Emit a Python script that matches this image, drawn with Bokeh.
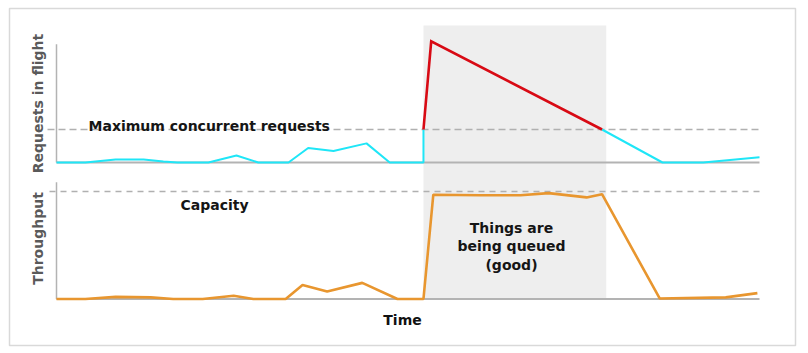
import math
from bokeh.plotting import figure
from bokeh.models import Range1d, Label
from bokeh.embed import file_html
from bokeh.resources import INLINE

# ---------------- data ----------------
# requests in flight (top panel), time in arbitrary units 0..100
req_time = [0, 4.1, 8.4, 12.4, 15.2, 17.2, 21.6, 25.6, 28.7, 33.0, 35.8, 39.4, 44.1, 47.4, 52.2, 52.2]
req_vals = [0, 0, 0.9, 0.9, 0.3, 0, 0, 2.1, 0, 0, 4.4, 3.5, 5.8, 0, 0, 10]
# over the limit (queued)
over_time = [52.2, 53.3, 77.6]
over_vals = [10, 36.7, 10]
# back under the limit
after_time = [77.6, 86.2, 92.0, 100]
after_vals = [10, 0, 0, 1.6]

# throughput (bottom panel)
thr_time = [0, 4.1, 8.4, 13.4, 16.6, 20.8, 25.2, 28.0, 32.6, 35.0, 38.5, 43.5, 48.5, 52.2,
            53.6, 60.3, 66.0, 70.0, 75.4, 77.6, 85.8, 95.2, 99.7]
thr_vals = [0, 0, 2, 1.5, 0, 0, 3, 0, 0, 13, 7, 15, 0, 0,
            97, 96.5, 96.5, 98.5, 94.5, 97.5, 0.5, 1.5, 5.5]

MAX_CONCURRENT = 10
CAPACITY = 100
T_END = 100
QUEUE_START, QUEUE_END = 52.2, 78.2
REQ_AXIS_TOP = 35.8
THR_AXIS_TOP = 108.7

# ---------------- layout (pixels) ----------------
W, H = 808, 353
FL, FR, FT, FB = 9, 795, 8, 345          # outer box
X0_PX, PX_PER_T = 56, 7.03               # time 0 at x=56
REQ0_PX, PX_PER_REQ = 162, 3.3           # requests 0 at y=162
THR0_PX, PX_PER_THR = 298.5, 1.075       # throughput 0 at y=298.5


def tx(px):
    return (px - X0_PX) / PX_PER_T


def ry(py):
    return (REQ0_PX - py) / PX_PER_REQ


def thy(py):
    return (THR0_PX - py) / PX_PER_THR


p = figure(width=W, height=H,
           x_range=Range1d(tx(FL), tx(FR)),
           y_range=Range1d(ry(FB), ry(FT)),
           x_axis_type=None, y_axis_type=None,
           toolbar_location=None, output_backend="svg",
           min_border_left=FL, min_border_right=W - FR,
           min_border_top=FT, min_border_bottom=H - FB,
           outline_line_color="#d9d9d9", outline_line_width=1.5,
           background_fill_color="white", border_fill_color="white")
p.extra_y_ranges = {"thr": Range1d(thy(FB), thy(FT))}

FONT = "DejaVu Sans"
AXIS_COL = "#b3b3b3"
DASH_COL = "#b0b0b0"

# queued highlight
p.quad(left=QUEUE_START, right=QUEUE_END, bottom=0, top=thy(25),
       y_range_name="thr", fill_color="#eeeeee", line_color=None)

# top panel axes
p.segment(x0=[0], y0=[0], x1=[0], y1=[REQ_AXIS_TOP], line_color=AXIS_COL, line_width=1.5)
p.segment(x0=[0], y0=[0], x1=[T_END], y1=[0], line_color=AXIS_COL, line_width=2)
p.segment(x0=[tx(47)], y0=[MAX_CONCURRENT], x1=[T_END], y1=[MAX_CONCURRENT],
          line_color=DASH_COL, line_width=1.5, line_dash="7 4")

# bottom panel axes
p.segment(x0=[0], y0=[0], x1=[0], y1=[THR_AXIS_TOP], line_color=AXIS_COL, line_width=1.5,
          y_range_name="thr")
p.segment(x0=[0], y0=[0], x1=[T_END], y1=[0], line_color=AXIS_COL, line_width=2,
          y_range_name="thr")
p.segment(x0=[tx(49)], y0=[CAPACITY], x1=[T_END], y1=[CAPACITY],
          line_color=DASH_COL, line_width=1.5, line_dash="6 5", y_range_name="thr")

# series
p.line(req_time, req_vals, line_color="#1fe6f7", line_width=2)
p.line(after_time, after_vals, line_color="#1fe6f7", line_width=2)
p.line(over_time, over_vals, line_color="#d80a14", line_width=2.6, line_join="miter")
p.line(thr_time, thr_vals, line_color="#e8962f", line_width=2.6, y_range_name="thr")

# texts
p.add_layout(Label(x=tx(37), y=ry(103), text="Requests in flight", angle=math.pi / 2,
                   text_align="center", text_baseline="middle", text_font=FONT,
                   text_font_size="14px", text_font_style="bold", text_color="#5a5a5a"))
p.add_layout(Label(x=tx(37), y=thy(238), y_range_name="thr", text="Throughput",
                   angle=math.pi / 2, text_align="center", text_baseline="middle",
                   text_font=FONT, text_font_size="14px", text_font_style="bold",
                   text_color="#5a5a5a"))
p.add_layout(Label(x=tx(88), y=ry(125), text="Maximum concurrent requests",
                   text_align="left", text_baseline="alphabetic", text_font=FONT,
                   text_font_size="14px", text_font_style="bold", text_color="#151515"))
p.add_layout(Label(x=tx(180), y=thy(204.5), y_range_name="thr", text="Capacity",
                   text_align="left", text_baseline="alphabetic", text_font=FONT,
                   text_font_size="14px", text_font_style="bold", text_color="#151515"))
p.add_layout(Label(x=tx(511), y=thy(246), y_range_name="thr",
                   text="Things are\nbeing queued\n(good)",
                   text_align="center", text_baseline="middle", text_line_height=1.15,
                   text_font=FONT, text_font_size="14px", text_font_style="bold",
                   text_color="#151515"))
p.add_layout(Label(x=tx(402), y=thy(319.5), y_range_name="thr", text="Time",
                   text_align="center", text_baseline="middle", text_font=FONT,
                   text_font_size="14px", text_font_style="bold", text_color="#111111"))

open("out.html", "w").write(file_html(p, INLINE))
